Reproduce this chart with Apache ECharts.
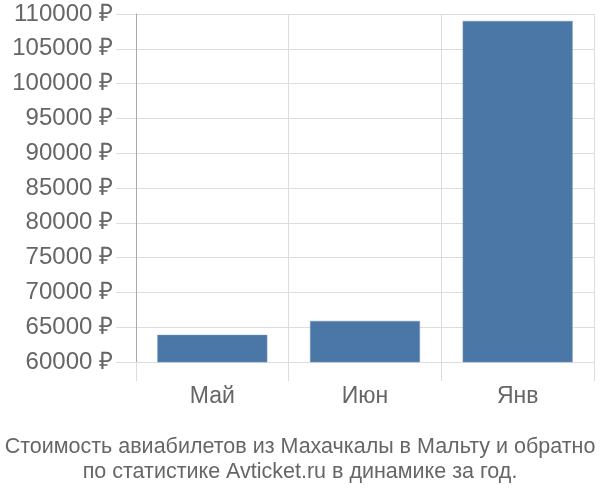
<!DOCTYPE html>
<html>
<head>
    <meta charset="utf-8">
    <title>Avticket</title>
    <script src="https://cdn.jsdelivr.net/npm/echarts@6/dist/echarts.min.js"></script>
    <style type="text/css">
    html,body{margin:0;padding:0;background:#fff;}
    #main{width:600px;height:500px;}
    </style>
</head>
<body>
    <div id="main"></div>
    <script>
    var months = ['Май', 'Июн', 'Янв'];
    var prices = [63900, 65900, 109000];
    var yMin = 60000, yMax = 110000, yStep = 5000;
    var titleLines = ['Стоимость авиабилетов из Махачкалы в Мальту и обратно',
                      'по статистике Avticket.ru в динамике за год.'];

    var chart = echarts.init(document.getElementById('main'));
    var grey = '#666';
    var option = {
        backgroundColor: '#fff',
        animation: false,
        textStyle: {fontFamily: 'Liberation Sans, Arial, sans-serif'},
        title: {
            text: titleLines.join('\n'),
            left: 'center',
            top: 430,
            textStyle: {color: grey, fontSize: 21.5, fontWeight: 'normal', lineHeight: 25}
        },
        grid: {left: 136, right: 6, top: 14, bottom: 138},
        xAxis: {
            type: 'category',
            data: months,
            axisLine: {show: false},
            axisTick: {show: true, length: 19, lineStyle: {color: '#ddd'}},
            splitLine: {show: true, lineStyle: {color: '#ddd'}},
            axisLabel: {color: grey, fontSize: 23, margin: 23}
        },
        yAxis: {
            type: 'value',
            min: yMin, max: yMax, interval: yStep,
            axisLine: {show: true, lineStyle: {color: '#aaa'}},
            axisTick: {show: true, length: 20, lineStyle: {color: '#ddd'}},
            splitLine: {show: true, lineStyle: {color: '#ddd'}},
            axisLabel: {color: grey, fontSize: 24, margin: 23,
                formatter: function (v) { return v + ' ₽'; }}
        },
        series: [{
            type: 'bar',
            data: prices,
            barWidth: '72%',
            itemStyle: {color: '#4b77a6', borderColor: '#6f93ba', borderWidth: 0.5}
        }]
    };
    chart.setOption(option);
    </script>
</body>
</html>
